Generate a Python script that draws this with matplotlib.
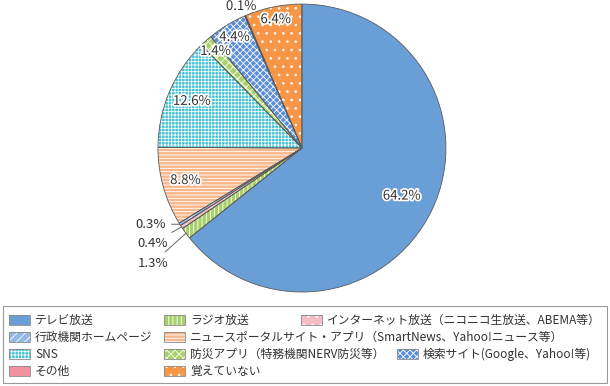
import matplotlib
matplotlib.use("Agg")
import matplotlib.pyplot as plt
import matplotlib.patheffects as pe
from matplotlib.patches import Rectangle
import numpy as np

plt.rcParams['font.family'] = ['Noto Sans CJK JP', 'DejaVu Sans']
plt.rcParams['hatch.linewidth'] = 0.6

# data (clockwise from 12 o'clock)
labels = ['テレビ放送', 'ラジオ放送', 'インターネット放送（ニコニコ生放送、ABEMA等）',
          '行政機関ホームページ', 'ニュースポータルサイト・アプリ（SmartNews、Yahoo!ニュース等）',
          'SNS', '防災アプリ（特務機関NERV防災等）', '検索サイト(Google、Yahoo!等)',
          'その他', '覚えていない']
values = [64.2, 1.3, 0.4, 0.3, 8.8, 12.6, 1.4, 4.4, 0.1, 6.4]

face_colors = ['#6A9ED7', '#A8D16A', '#F6BDC4', '#94B8E6', '#F9B88B',
               '#3EC1D3', '#A8D16A', '#5A8ED8', '#F2929F', '#F79646']
hatches = [None, '||||', '..', '////', '-----', '+++++', 'xxxx', 'xxxxx', None, '..']

# label placement (radius factor)
label_r = [0.77, None, None, None, 0.84, 0.83, 0.9, 0.9, 1.07, 0.91]
leader_text = {1: (-0.93, -0.80), 2: (-0.93, -0.66), 3: (-0.945, -0.528)}

fig = plt.figure(figsize=(6.10, 3.86), dpi=100)
ax = fig.add_axes([0.259, 0.2435, 0.472, 0.746])

wedges, _ = ax.pie(values, startangle=90, counterclock=False, colors=face_colors,
                   wedgeprops={'edgecolor': 'white', 'linewidth': 0})
for w, h in zip(wedges, hatches):
    if h:
        w.set_hatch(h)
ax.pie(values, startangle=90, counterclock=False,
       wedgeprops={'fill': False, 'edgecolor': '#5a5a5a', 'linewidth': 0.6})
ax.set_xlim(-1, 1)
ax.set_ylim(-1, 1)
ax.set_aspect('equal')
ax.axis('off')

stroke = [pe.withStroke(linewidth=2.5, foreground='white')]
for i, w in enumerate(wedges):
    ang = np.deg2rad((w.theta1 + w.theta2) / 2)
    txt = f'{values[i]}%'
    if i in leader_text:
        tx, ty = leader_text[i]
        ax.annotate(txt, xy=(np.cos(ang), np.sin(ang)), xytext=(tx, ty),
                    ha='right', va='center', fontsize=9.5, color='#333333',
                    arrowprops=dict(arrowstyle='-', color='#666666', lw=0.7,
                                    shrinkA=2, shrinkB=0))
    else:
        r = label_r[i]
        ax.text(r * np.cos(ang), r * np.sin(ang), txt, ha='center', va='center',
                fontsize=9.5, color='#333333', path_effects=stroke)

# legend drawn by hand (uneven column layout)
W, H = 610, 386
fig.patches.append(Rectangle((3 / W, 1 - 383 / H), 604 / W, 77 / H,
                             transform=fig.transFigure, fill=False,
                             edgecolor='#999999', linewidth=0.8))
slots = [(9, 320), (164, 320), (301, 320),
         (9, 337), (164, 337),
         (9, 354), (164, 354), (397, 354),
         (9, 371), (164, 371)]
for (x, y), lab, fc, h in zip(slots, labels, face_colors, hatches):
    sw = Rectangle((x / W, 1 - (y + 5) / H), 21 / W, 10 / H, transform=fig.transFigure,
                   facecolor=fc, edgecolor='white', linewidth=0, hatch=h)
    fig.patches.append(sw)
    fig.patches.append(Rectangle((x / W, 1 - (y + 5) / H), 21 / W, 10 / H,
                                 transform=fig.transFigure, fill=False,
                                 edgecolor='#888888', linewidth=0.6))
    fig.text((x + 26) / W, 1 - y / H, lab, ha='left', va='center',
             fontsize=8.5, color='#333333')

fig.savefig('out.png', dpi=100)
